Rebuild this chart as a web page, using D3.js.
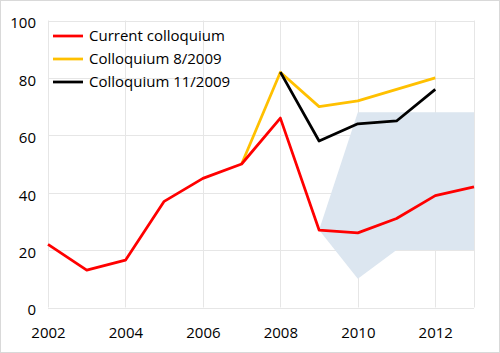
<!DOCTYPE html>
<html>
<head>
<meta charset="utf-8">
<script src="https://cdn.jsdelivr.net/npm/d3@7"></script>
<style>
  body { margin: 0; background: #fff; }
  svg { display: block; font-family: "Open Sans", sans-serif; }
</style>
</head>
<body>
<div id="chart"></div>
<script>
const svgWidth = 500;
const svgHeight = 353;

// data
const years = [2002, 2003, 2004, 2005, 2006, 2007, 2008, 2009, 2010, 2011, 2012, 2013];
const current = [22, 13, 16.5, 37, 45, 50, 66, 27, 26, 31, 39, 42];
const aug2009Years = [2007, 2008, 2009, 2010, 2011, 2012];
const aug2009 = [50, 82, 70, 72, 76, 80];
const nov2009Years = [2008, 2009, 2010, 2011, 2012];
const nov2009 = [82, 58, 64, 65, 76];
const bandYears = [2009, 2010, 2011, 2012, 2013];
const bandLow = [27, 10, 20, 20, 20];
const bandHigh = [27, 68, 68, 68, 68];
const xTicks = [2002, 2004, 2006, 2008, 2010, 2012];
const yTicks = [0, 20, 40, 60, 80, 100];
const seriesNames = ["Current colloquium", "Colloquium 8/2009", "Colloquium 11/2009"];
const seriesColors = ["#ff0000", "#ffc000", "#000000"];

const margin = { left: 48, right: 26, top: 20.5, bottom: 45.5 };

const svg = d3.select("#chart")
  .append("svg")
  .attr("width", svgWidth)
  .attr("height", svgHeight);

svg.append("rect")
  .attr("x", 0.5).attr("y", 0.5)
  .attr("width", svgWidth - 1).attr("height", svgHeight - 1)
  .attr("fill", "#fff").attr("stroke", "#d9d9d9");

const xScale = d3.scaleLinear()
  .domain([2002, 2013])
  .range([margin.left, svgWidth - margin.right]);

const yScale = d3.scaleLinear()
  .domain([0, 100])
  .range([svgHeight - margin.bottom, margin.top]);

// grid
const grid = svg.append("g").attr("stroke", "#e6e6e6").attr("stroke-width", 1);
grid.selectAll(".h").data(yTicks).enter().append("line")
  .attr("x1", xScale(2002)).attr("x2", xScale(2013))
  .attr("y1", d => Math.round(yScale(d)) + 0.5).attr("y2", d => Math.round(yScale(d)) + 0.5);
grid.selectAll(".v").data(xTicks.concat([2013])).enter().append("line")
  .attr("x1", d => Math.round(xScale(d)) + 0.5).attr("x2", d => Math.round(xScale(d)) + 0.5)
  .attr("y1", yScale(0)).attr("y2", yScale(100));

// shaded band
const band = d3.area()
  .x((d, i) => xScale(bandYears[i]))
  .y0((d, i) => yScale(bandLow[i]))
  .y1((d, i) => yScale(bandHigh[i]));
svg.append("path")
  .datum(bandYears)
  .attr("d", band)
  .attr("fill", "#dce6f0");

// lines
const line = d3.line()
  .x(d => xScale(d[0]))
  .y(d => yScale(d[1]));

const seriesData = [
  years.map((y, i) => [y, current[i]]),
  aug2009Years.map((y, i) => [y, aug2009[i]]),
  nov2009Years.map((y, i) => [y, nov2009[i]])
];

[1, 2, 0].forEach(i => {
  svg.append("path")
    .datum(seriesData[i])
    .attr("d", line)
    .attr("fill", "none")
    .attr("stroke", seriesColors[i])
    .attr("stroke-width", 2.75)
    .attr("stroke-linejoin", "round");
});

// axes
const yAxis = d3.axisLeft(yScale).tickValues(yTicks).tickSize(0).tickPadding(12);
svg.append("g")
  .attr("transform", `translate(${margin.left},2.5)`)
  .call(yAxis)
  .call(g => g.select(".domain").remove())
  .selectAll("text")
  .attr("font-size", 15)
  .attr("font-family", "Open Sans, sans-serif")
  .attr("fill", "#000");

const xAxis = d3.axisBottom(xScale).tickValues(xTicks).tickFormat(d3.format("d")).tickSize(0).tickPadding(20);
svg.append("g")
  .attr("transform", `translate(0,${yScale(0)})`)
  .call(xAxis)
  .call(g => g.select(".domain").remove())
  .selectAll("text")
  .attr("font-size", 15)
  .attr("font-family", "Open Sans, sans-serif")
  .attr("fill", "#000");

// legend
const legend = svg.append("g").attr("transform", "translate(53,36)");
seriesNames.forEach((name, i) => {
  const row = legend.append("g").attr("transform", `translate(0,${i * 23})`);
  row.append("line")
    .attr("x1", 0).attr("x2", 30)
    .attr("y1", 0).attr("y2", 0)
    .attr("stroke", seriesColors[i])
    .attr("stroke-width", 2.75);
  row.append("text")
    .attr("x", 36).attr("y", 0)
    .attr("dy", "0.35em")
    .attr("font-size", 15)
    .text(name);
});
</script>
</body>
</html>
